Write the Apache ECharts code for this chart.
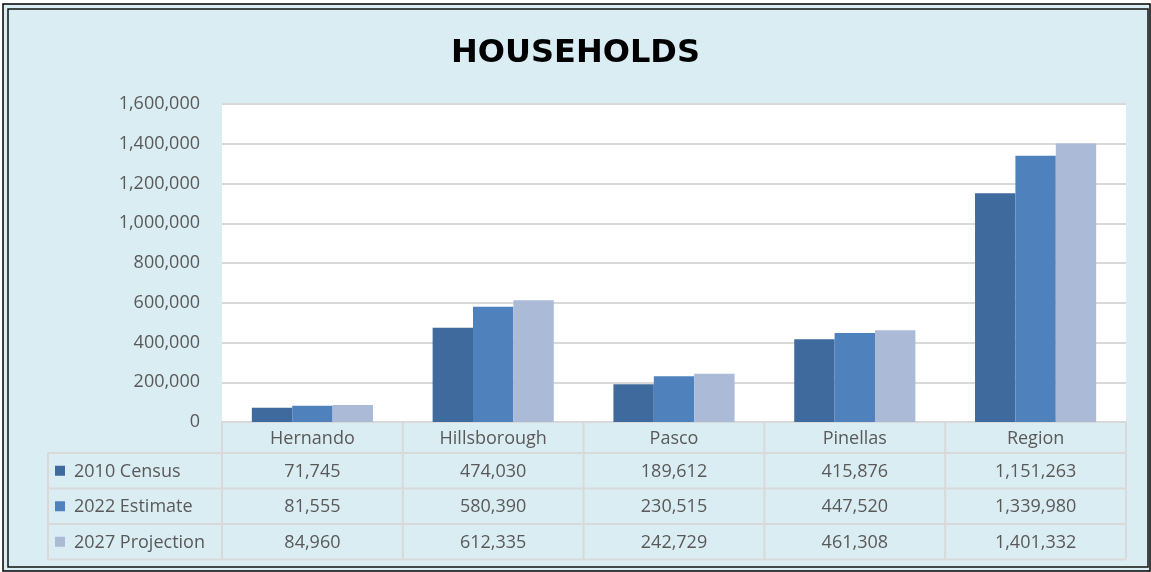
<!DOCTYPE html>
<html>
<head>
<meta charset="utf-8">
<script src="https://cdn.jsdelivr.net/npm/echarts@6/dist/echarts.min.js"></script>
<style>
html,body{margin:0;padding:0;background:#fff;}
#c{width:1151px;height:572px;}
</style>
</head>
<body>
<div id="c"></div>
<script>
const categories = ['Hernando', 'Hillsborough', 'Pasco', 'Pinellas', 'Region'];
const seriesNames = ['2010 Census', '2022 Estimate', '2027 Projection'];
const census2010 = [71745, 474030, 189612, 415876, 1151263];
const estimate2022 = [81555, 580390, 230515, 447520, 1339980];
const projection2027 = [84960, 612335, 242729, 461308, 1401332];
const seriesValues = [census2010, estimate2022, projection2027];
const colors = ['#3F6A9D', '#4F81BD', '#AABAD7'];

const FONT = '"Open Sans", sans-serif';
const TXT = '#595959';
const LINE = '#D9D9D9';
const BG = '#DAEDF3';

const G = { left: 222, right: 25, top: 104, bottom: 150 };
const W = 1151, H = 572;

const chart = echarts.init(document.getElementById('c'), null, { renderer: 'canvas' });

function fmt(v) { return v.toLocaleString('en-US'); }

const option = {
  backgroundColor: '#fff',
  animation: false,
  title: {
    text: 'HOUSEHOLDS',
    left: 'center',
    top: 33,
    textStyle: { fontFamily: '"DejaVu Sans", sans-serif', fontWeight: 'bold', fontSize: 32, color: '#000' }
  },
  grid: { left: G.left, right: G.right, top: G.top, bottom: G.bottom, backgroundColor: '#fff', show: true, borderWidth: 0 },
  xAxis: {
    type: 'category',
    data: categories,
    axisLine: { show: true, lineStyle: { color: LINE, width: 2 } },
    axisTick: { show: false },
    axisLabel: { show: false }
  },
  yAxis: {
    type: 'value',
    min: 0,
    max: 1600000,
    interval: 200000,
    axisLine: { show: false },
    axisTick: { show: false },
    splitLine: { lineStyle: { color: LINE, width: 2 } },
    axisLabel: {
      margin: 22,
      color: TXT,
      fontFamily: FONT,
      fontSize: 18,
      formatter: v => fmt(v)
    }
  },
  series: seriesNames.map((n, i) => ({
    name: n,
    type: 'bar',
    data: seriesValues[i],
    barGap: '0%',
    barCategoryGap: '33%',
    itemStyle: { color: colors[i] }
  }))
};
chart.setOption(option);

// Data table below the plot, built from the data arrays and the grid layout
const plotLeft = G.left, plotRight = W - G.right, axisY = H - G.bottom;
const bw = (plotRight - plotLeft) / categories.length;
const headerH = 31, rowH = 35.5;
const tableLeft = 48;
const els = [];

// panel background and double border
els.push({ type: 'rect', z: -10, shape: { x: 3, y: 4, width: 1147, height: 567 }, style: { fill: BG, stroke: '#000', lineWidth: 1.5 } });
els.push({ type: 'rect', z: -9, shape: { x: 8, y: 9, width: 1140, height: 558 }, style: { fill: 'none', stroke: '#111', lineWidth: 1.5 } });

const rowsTop = axisY + headerH;
const tableBottom = rowsTop + rowH * seriesNames.length;
for (let r = 0; r <= seriesNames.length; r++) {
  const y = rowsTop + r * rowH;
  els.push({ type: 'line', shape: { x1: tableLeft, y1: y, x2: plotRight, y2: y }, style: { stroke: LINE, lineWidth: 2 } });
}
for (let c = 0; c <= categories.length; c++) {
  const x = plotLeft + c * bw;
  els.push({ type: 'line', shape: { x1: x, y1: axisY, x2: x, y2: tableBottom }, style: { stroke: LINE, lineWidth: 2 } });
}
els.push({ type: 'line', shape: { x1: tableLeft, y1: rowsTop, x2: tableLeft, y2: tableBottom }, style: { stroke: LINE, lineWidth: 2 } });

categories.forEach((cat, c) => {
  els.push({ type: 'text', style: { text: cat, x: plotLeft + (c + 0.5) * bw, y: axisY + headerH / 2 + 1, align: 'center', verticalAlign: 'middle', fill: TXT, font: '18px ' + FONT } });
});
seriesNames.forEach((n, r) => {
  const cy = rowsTop + (r + 0.5) * rowH;
  els.push({ type: 'rect', shape: { x: 55, y: cy - 5, width: 10, height: 10 }, style: { fill: colors[r] } });
  els.push({ type: 'text', style: { text: n, x: 74, y: cy + 1, align: 'left', verticalAlign: 'middle', fill: TXT, font: '18px ' + FONT } });
  seriesValues[r].forEach((v, c) => {
    els.push({ type: 'text', style: { text: fmt(v), x: plotLeft + (c + 0.5) * bw, y: cy + 1, align: 'center', verticalAlign: 'middle', fill: TXT, font: '18px ' + FONT } });
  });
});

chart.setOption({ graphic: { elements: els } });
</script>
</body>
</html>
